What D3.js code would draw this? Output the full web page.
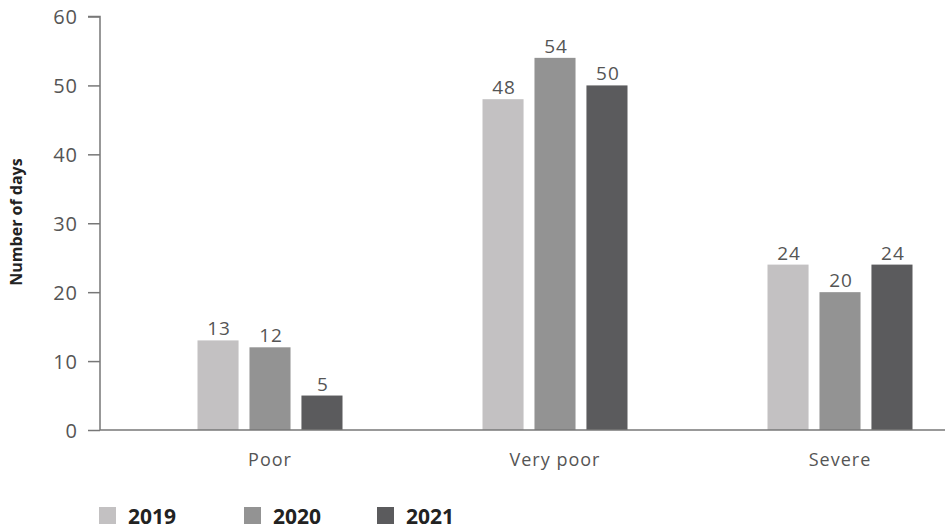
<!DOCTYPE html>
<html>
<head>
<meta charset="utf-8">
<script src="https://cdn.jsdelivr.net/npm/d3@7"></script>
<style>
  body { margin: 0; background: #fff; }
  svg { font-family: "Open Sans", "Lato", sans-serif; }
</style>
</head>
<body>
<svg id="chart" width="947" height="529"></svg>
<script>
const categories = ["Poor", "Very poor", "Severe"];
const years = ["2019", "2020", "2021"];
const values2019 = [13, 48, 24];
const values2020 = [12, 54, 20];
const values2021 = [5, 50, 24];
const yTicks = [0, 10, 20, 30, 40, 50, 60];
const colors = ["#c3c1c2", "#939393", "#5b5b5d"];

const series = [values2019, values2020, values2021];
const svg = d3.select("#chart");

const y = d3.scaleLinear().domain([0, 60]).range([430, 16.5]);
const x0 = d3.scaleBand().domain(categories).range([127.5, 982.5]);
const groupWidth = 145;
const x1 = d3.scaleBand().domain(years).range([0, groupWidth]).paddingInner(0.21);
const groupOffset = (x0.bandwidth() - groupWidth) / 2;

// y axis
const yAxis = d3.axisLeft(y).tickValues(yTicks).tickSize(12).tickPadding(10);
const gy = svg.append("g").attr("transform", "translate(100,0)").call(yAxis);
gy.select(".domain").attr("stroke", "#777").attr("stroke-width", 1.5).attr("d", "M-12,16.5H0V430");
gy.selectAll(".tick line").attr("stroke", "#777").attr("stroke-width", 1.5);
gy.selectAll(".tick text").attr("fill", "#555").attr("font-size", 20)
  .attr("font-family", "'Open Sans', sans-serif").attr("letter-spacing", 1).attr("dy", "0.36em");

// bars
categories.forEach((cat, ci) => {
  years.forEach((yr, si) => {
    const v = series[si][ci];
    const bx = x0(cat) + groupOffset + x1(yr);
    svg.append("rect")
      .attr("x", bx).attr("y", y(v))
      .attr("width", x1.bandwidth()).attr("height", y(0) - y(v))
      .attr("fill", colors[si]);
    svg.append("text")
      .attr("x", bx + x1.bandwidth() / 2 + 1).attr("y", y(v) - 5)
      .attr("text-anchor", "middle").attr("font-size", 19).attr("letter-spacing", 1).attr("fill", "#555")
      .text(v);
  });
});

// x axis baseline
svg.append("line").attr("x1", 100).attr("x2", 945).attr("y1", y(0)).attr("y2", y(0))
  .attr("stroke", "#777").attr("stroke-width", 1.5);

// category labels
categories.forEach(cat => {
  svg.append("text")
    .attr("x", x0(cat) + x0.bandwidth() / 2).attr("y", 466)
    .attr("text-anchor", "middle").attr("font-size", 18).attr("letter-spacing", 1).attr("fill", "#555")
    .text(cat);
});

// y axis title
svg.append("text")
  .attr("transform", "translate(22,222) rotate(-90)")
  .attr("text-anchor", "middle").attr("font-size", 16).attr("font-weight", "bold").attr("fill", "#222")
  .text("Number of days");

// legend
const legendX = [99, 244, 377];
years.forEach((yr, i) => {
  svg.append("rect").attr("x", legendX[i]).attr("y", 507).attr("width", 17).attr("height", 17).attr("fill", colors[i]);
  svg.append("text").attr("x", legendX[i] + 29).attr("y", 524)
    .attr("font-size", 21).attr("font-weight", "bold").attr("fill", "#222").text(yr);
});
</script>
</body>
</html>
